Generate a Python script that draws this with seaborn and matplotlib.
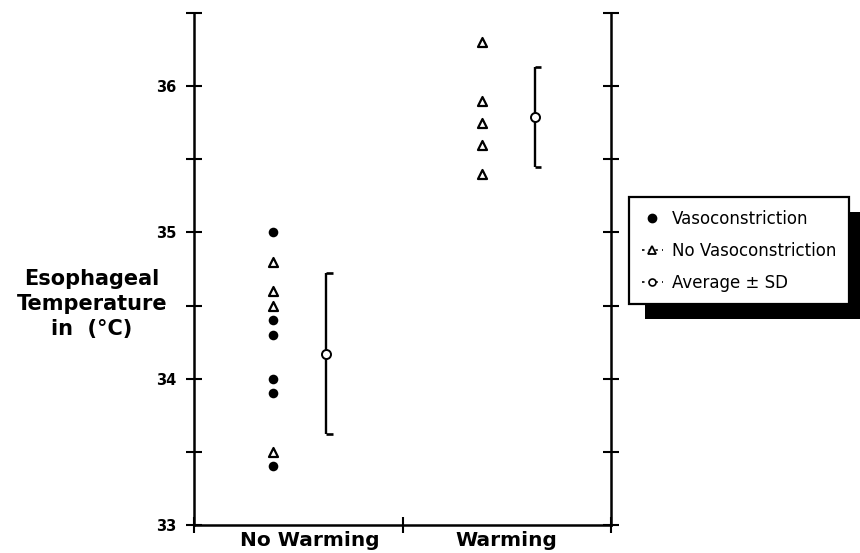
import numpy as np
import pandas as pd
import matplotlib
matplotlib.use("Agg")
import matplotlib.pyplot as plt
import seaborn as sns
from matplotlib.lines import Line2D
from matplotlib.patches import Rectangle
from matplotlib.transforms import ScaledTranslation

# ---------------- data ----------------
groups = ["No Warming", "Warming"]
vaso_group = ["No Warming"] * 6
vaso_temp = [35.0, 34.4, 34.3, 34.0, 33.9, 33.4]
novaso_group = ["No Warming"] * 4 + ["Warming"] * 5
novaso_temp = [34.8, 34.6, 34.5, 33.5, 36.3, 35.9, 35.75, 35.6, 35.4]
avg_mean = [34.17, 35.79]
avg_sd = [0.55, 0.34]
yticks = [33, 34, 35, 36]
legend_labels = ["Vasoconstriction", "No Vasoconstriction", "Average \u00b1 SD"]
ylabel = "Esophageal\nTemperature\nin  (\u00b0C)"

# ---------------- style ----------------
sns.set_theme(style="ticks")
plt.rcParams["font.family"] = ["DejaVu Sans"]
plt.rcParams["text.color"] = "black"
plt.rcParams["axes.labelcolor"] = "black"
plt.rcParams["xtick.color"] = "black"
plt.rcParams["ytick.color"] = "black"

PT_OFF = -0.12
AVG_OFF = 0.135

fig = plt.figure(figsize=(8.6, 5.53), dpi=100)
ax = fig.add_axes([194 / 860, 28 / 553, 417 / 860, 512 / 553])

gidx = {g: i for i, g in enumerate(groups)}
df_v = pd.DataFrame({"group": vaso_group, "temp": vaso_temp})
df_v["x"] = df_v["group"].map(gidx) + PT_OFF
df_n = pd.DataFrame({"group": novaso_group, "temp": novaso_temp})
df_n["x"] = df_n["group"].map(gidx) + PT_OFF

sns.scatterplot(data=df_v, x="x", y="temp", marker="o", color="black",
                s=48, linewidth=0, ax=ax, legend=False, zorder=3)
sns.scatterplot(data=df_n, x="x", y="temp", marker="^", color="white",
                edgecolor="black", linewidth=1.6, s=42, ax=ax, legend=False, zorder=3)

xa = np.arange(len(groups)) + AVG_OFF
ax.errorbar(xa, avg_mean, yerr=avg_sd, fmt="o", mfc="white", mec="black",
            mew=1.4, ms=6.5, color="black", elinewidth=1.7, capsize=0, zorder=4)
for x, m, s in zip(xa, avg_mean, avg_sd):
    ax.hlines([m - s, m + s], x, x + 0.03, colors="black", lw=1.9, zorder=4)

# ---------------- axes ----------------
ax.set_xlim(-0.5, 1.5)
ax.set_ylim(33, 36.5)
ax.set_xticks(range(len(groups)))
ax.set_xticklabels(groups, fontsize=14.5, fontweight="bold", color="black")
ax.set_xticks([-0.5, 0.5, 1.5], minor=True)
ax.tick_params(axis="x", which="major", length=0, pad=4.5, colors="black")
ax.tick_params(axis="x", which="minor", length=12, width=1.5, direction="inout",
               bottom=True, top=False, colors="black")
ax.set_yticks(yticks)
ax.set_yticklabels([str(t) for t in yticks], fontsize=10.5, fontweight="bold",
                   color="black")
ax.set_yticks(np.array(yticks) + 0.5, minor=True)
ax.tick_params(axis="y", which="both", length=12, width=1.5, direction="inout",
               left=True, right=True, labelright=False, pad=7, colors="black")
for side in ["left", "right", "bottom"]:
    ax.spines[side].set_visible(True)
    ax.spines[side].set_linewidth(1.8)
    ax.spines[side].set_color("black")
ax.spines["top"].set_visible(False)
ax.set_xlabel("")
ax.set_ylabel(ylabel, rotation=0, fontsize=15, fontweight="bold", color="black",
              ha="center", va="center", multialignment="center", linespacing=1.3)
ax.yaxis.set_label_coords(-0.245, 0.432)
ax.grid(False)

# shift the first category label slightly right, as in the reference
lab0 = ax.get_xticklabels()[0]
lab0.set_transform(lab0.get_transform() + ScaledTranslation(0.12, 0, fig.dpi_scale_trans))

# ---------------- legend ----------------
handles = [
    Line2D([], [], marker="o", color="black", linestyle="none", ms=6),
    Line2D([], [], marker="^", color="black", mfc="white", mew=1.3, ms=6,
           linestyle=(0, (1.5, 2.5)), lw=1.2),
    Line2D([], [], marker="o", color="black", mfc="white", mew=1.2, ms=5,
           linestyle=(0, (1.5, 2.5)), lw=1.2),
]
leg = ax.legend(handles, legend_labels, loc="upper left",
                bbox_to_anchor=(1.0432, 0.6406), borderaxespad=0,
                frameon=True, fancybox=False, fontsize=12,
                borderpad=0.75, labelspacing=0.85, handlelength=1.3,
                handletextpad=0.55, labelcolor="black")
frame = leg.get_frame()
frame.set_edgecolor("black")
frame.set_linewidth(1.6)
frame.set_facecolor("white")
frame.set_alpha(1)
leg.set_zorder(6)

fig.canvas.draw()
bb = leg.get_window_extent()
inv = fig.transFigure.inverted()
(x0, y0), (x1, y1) = inv.transform([(bb.x0 + 16, bb.y0 - 15), (bb.x1 + 16, bb.y1 - 15)])
shadow = Rectangle((x0, y0), x1 - x0, y1 - y0, transform=fig.transFigure,
                   facecolor="black", edgecolor="none", clip_on=False, zorder=5)
ax.add_patch(shadow)

fig.savefig("out.png", dpi=100, facecolor="white")
